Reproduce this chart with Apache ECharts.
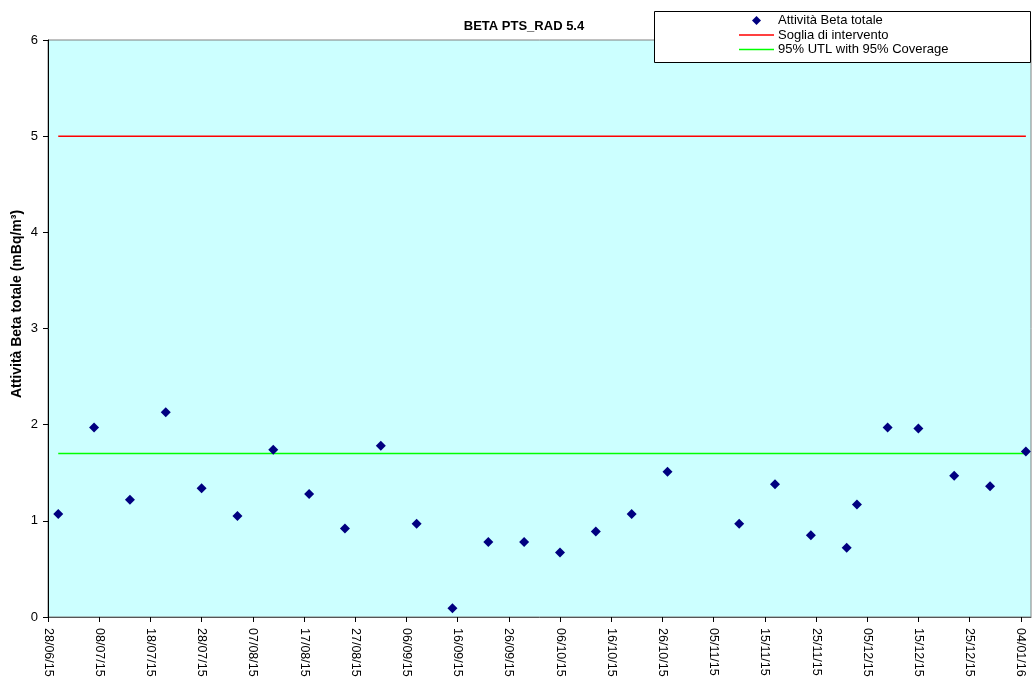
<!DOCTYPE html>
<html>
<head>
<meta charset="utf-8">
<title>BETA PTS_RAD 5.4</title>
<script src="https://cdn.jsdelivr.net/npm/echarts@6/dist/echarts.min.js"></script>
<style>
  html, body { margin: 0; padding: 0; background: #ffffff; }
  #chart { width: 1032px; height: 682px; }
</style>
</head>
<body>
<div id="chart"></div>
<script>
// Sampling dates (dd/mm/yy) and measured total beta activity (mBq/m3)
const sampleDates = [
  '30/06/15', '07/07/15', '14/07/15', '21/07/15', '28/07/15', '04/08/15', '11/08/15',
  '18/08/15', '25/08/15', '01/09/15', '08/09/15', '15/09/15', '22/09/15', '29/09/15',
  '06/10/15', '13/10/15', '20/10/15', '27/10/15', '10/11/15', '17/11/15', '24/11/15',
  '01/12/15', '03/12/15', '09/12/15', '15/12/15', '22/12/15', '29/12/15', '05/01/16'
];
const betaValues = [
  1.07, 1.97, 1.22, 2.13, 1.34, 1.05, 1.74,
  1.28, 0.92, 1.78, 0.97, 0.09, 0.78, 0.78,
  0.67, 0.89, 1.07, 1.51, 0.97, 1.38, 0.85,
  0.72, 1.17, 1.97, 1.96, 1.47, 1.36, 1.72
];

// Reference levels
const thresholdValue = 5.0;   // Soglia di intervento
const utlValue = 1.70;        // 95% UTL with 95% Coverage

// Axis settings
const axisStartDate = '28/06/15';
const axisEndDate = '06/01/16';
const tickStepDays = 10;
const yTicks = [0, 1, 2, 3, 4, 5, 6];

const seriesNames = ['Attività Beta totale', 'Soglia di intervento', '95% UTL with 95% Coverage'];
const seriesColors = ['#000080', '#FF0000', '#00FF00'];

const DAY_MS = 86400000;
function parseDate(s) {
  const p = s.split('/').map(Number);
  return Date.UTC(2000 + p[2], p[1] - 1, p[0]);
}
const t0 = parseDate(axisStartDate);
const toDay = s => Math.round((parseDate(s) - t0) / DAY_MS);
const pad = n => (n < 10 ? '0' : '') + n;
function dayLabel(d) {
  const dt = new Date(t0 + d * DAY_MS);
  return pad(dt.getUTCDate()) + '/' + pad(dt.getUTCMonth() + 1) + '/' + pad(dt.getUTCFullYear() % 100);
}

const sampleDays = sampleDates.map(toDay);
const scatterData = sampleDays.map((d, i) => [d, betaValues[i]]);
const firstDay = sampleDays[0];
const lastDay = sampleDays[sampleDays.length - 1];
const xMax = toDay(axisEndDate);
const xTickDays = [];
for (let d = 0; d <= xMax; d += tickStepDays) xTickDays.push(d);

const FONT = 'Arial, "Liberation Sans", sans-serif';

// Legend box drawn as a small graphic group: marker/line sample + label per row
const legendX = 739, legendRowY = [20.5, 35, 49.5], legendSampleW = 35, legendTextX = 778;
const legendItems = [];
seriesNames.forEach((name, i) => {
  const cy = legendRowY[i];
  if (i === 0) {
    legendItems.push({
      type: 'polygon', z: 5,
      shape: { points: [[legendX + 17.5, cy - 4.5], [legendX + 22, cy], [legendX + 17.5, cy + 4.5], [legendX + 13, cy]] },
      style: { fill: seriesColors[0] }
    });
  } else {
    legendItems.push({
      type: 'line', z: 5,
      shape: { x1: legendX, y1: cy, x2: legendX + legendSampleW, y2: cy },
      style: { stroke: seriesColors[i], lineWidth: 1.5 }
    });
  }
  legendItems.push({
    type: 'text', z: 5, x: legendTextX, y: cy,
    style: { text: name, font: '13px ' + FONT, fill: '#000000', align: 'left', verticalAlign: 'middle' }
  });
});

const chart = echarts.init(document.getElementById('chart'), null, { renderer: 'canvas' });

chart.setOption({
  backgroundColor: '#ffffff',
  animation: false,
  grid: {
    left: 48, top: 40, right: 1, bottom: 65,
    show: true,
    backgroundColor: '#CCFFFF',
    borderColor: '#808080',
    borderWidth: 1
  },
  xAxis: {
    type: 'value',
    min: 0,
    max: xMax,
    interval: tickStepDays,
    splitLine: { show: false },
    axisLine: { show: true, onZero: false, lineStyle: { color: '#555555', width: 1 } },
    axisTick: { show: true, inside: false, length: 5, customValues: xTickDays, lineStyle: { color: '#000000' } },
    axisLabel: {
      rotate: -90,
      margin: 11,
      fontSize: 12.5,
      fontFamily: FONT,
      color: '#000000',
      customValues: xTickDays,
      formatter: v => dayLabel(v)
    }
  },
  yAxis: {
    type: 'value',
    min: yTicks[0],
    max: yTicks[yTicks.length - 1],
    interval: 1,
    splitLine: { show: false },
    axisLine: { show: true, lineStyle: { color: '#000000', width: 1 } },
    axisTick: { show: true, inside: false, length: 5, lineStyle: { color: '#000000' } },
    axisLabel: { margin: 10, fontSize: 13, fontFamily: FONT, color: '#000000' }
  },
  graphic: [
    {
      type: 'rect',
      z: 4,
      shape: { x: 654.5, y: 11.5, width: 376, height: 51 },
      style: { fill: '#ffffff', stroke: '#000000', lineWidth: 1 }
    },
    { type: 'group', z: 5, children: legendItems },
    {
      type: 'text',
      x: 524, y: 26,
      style: {
        text: 'BETA PTS_RAD 5.4',
        font: 'bold 13px ' + FONT,
        fill: '#000000',
        align: 'center',
        verticalAlign: 'middle'
      }
    },
    {
      type: 'text',
      x: 17, y: 304,
      rotation: Math.PI / 2,
      style: {
        text: 'Attività Beta totale (mBq/m³)',
        font: 'bold 14px ' + FONT,
        fill: '#000000',
        align: 'center',
        verticalAlign: 'middle'
      }
    }
  ],
  series: [
    {
      name: seriesNames[0],
      type: 'scatter',
      z: 3,
      symbol: 'diamond',
      symbolSize: 10,
      itemStyle: { color: seriesColors[0], opacity: 1 },
      data: scatterData
    },
    {
      name: seriesNames[1],
      type: 'line',
      z: 2,
      symbol: 'none',
      lineStyle: { color: seriesColors[1], width: 1.5 },
      itemStyle: { color: seriesColors[1] },
      data: [[firstDay, thresholdValue], [lastDay, thresholdValue]]
    },
    {
      name: seriesNames[2],
      type: 'line',
      z: 2,
      symbol: 'none',
      lineStyle: { color: seriesColors[2], width: 1.5 },
      itemStyle: { color: seriesColors[2] },
      data: [[firstDay, utlValue], [lastDay, utlValue]]
    }
  ]
});
</script>
</body>
</html>
